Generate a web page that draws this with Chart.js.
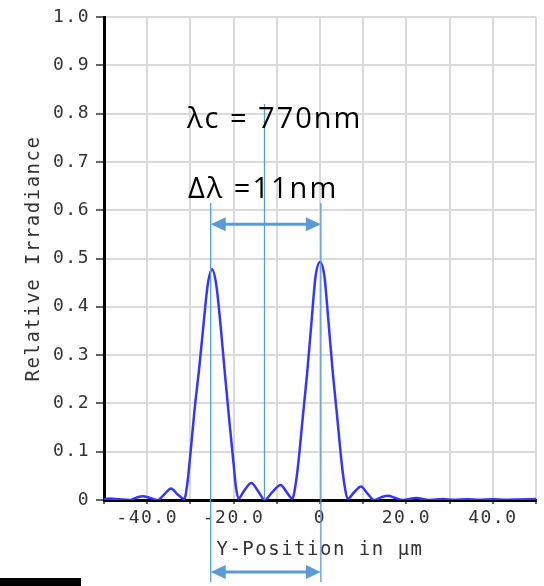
<!DOCTYPE html>
<html>
<head>
<meta charset="utf-8">
<script src="https://cdn.jsdelivr.net/npm/chart.js@4.4.0/dist/chart.umd.min.js"></script>
<style>
  html, body { margin: 0; padding: 0; background: #fff; }
</style>
</head>
<body>
<canvas id="myChart" width="544" height="586"></canvas>
<script>
// Y-position (µm) and relative irradiance
const positions = [
    -50, -48.8, -46.5, -44, -42.5, -41, -39.3, -37.6, -36, -34.5, -33, -31.4,
    -30.7, -30, -29, -28, -27, -26, -25, -24, -23, -22, -21, -20, -19.5, -18.9,
    -17.5, -15.9, -14.3, -12.8, -11, -9.1, -7.7, -6.4,
    -5.6, -5, -4, -3, -2, -1, 0, 1, 2, 3, 4, 5, 5.6, 6.4,
    7.8, 9.5, 11, 12.6, 14, 15.7, 17.5, 19.1, 22.3, 25.3, 28.4, 31, 34, 37, 40, 43, 46, 50
];
const irradiance = [
    0.001, 0.003, 0.0015, 0.0, 0.005, 0.008, 0.004, 0.0, 0.012, 0.024, 0.012, 0.002,
    0.035, 0.095, 0.19, 0.27, 0.36, 0.445, 0.478, 0.445, 0.36, 0.26, 0.165, 0.075, 0.03, 0.003,
    0.02, 0.035, 0.018, 0.0, 0.017, 0.031, 0.016, 0.003,
    0.035, 0.078, 0.17, 0.26, 0.365, 0.465, 0.493, 0.465, 0.365, 0.26, 0.17, 0.078, 0.035, 0.002,
    0.015, 0.028, 0.013, 0.0, 0.005, 0.009, 0.004, 0.0, 0.004, 0.0, 0.002, 0.0005, 0.0015, 0.0005, 0.0015, 0.0005, 0.0012, 0.002
];

const xTickValues = [-40, -20, 0, 20, 40];
const xTickLabels = ['-40.0', '-20.0', '0', '20.0', '40.0'];
const yTickLabels = ['0', '0.1', '0.2', '0.3', '0.4', '0.5', '0.6', '0.7', '0.8', '0.9', '1.0'];

// marker lines: the two peaks and the centre between them
const peakMarks = [-25.3, 0.2];
const centreMark = -12.85;

const points = positions.map((p, i) => ({x: p, y: irradiance[i]}));

const spacing = {
    id: 'spacing',
    beforeDraw(chart) {
        chart.ctx.letterSpacing = '1.5px';
    }
};

function arrow(ctx, x1, x2, y) {
    const head = 15, half = 7;
    ctx.lineWidth = 3;
    ctx.beginPath();
    ctx.moveTo(x1 + head - 2, y);
    ctx.lineTo(x2 - head + 2, y);
    ctx.stroke();
    ctx.beginPath();
    ctx.moveTo(x1, y);
    ctx.lineTo(x1 + head, y - half);
    ctx.lineTo(x1 + head, y + half);
    ctx.closePath();
    ctx.fill();
    ctx.beginPath();
    ctx.moveTo(x2, y);
    ctx.lineTo(x2 - head, y - half);
    ctx.lineTo(x2 - head, y + half);
    ctx.closePath();
    ctx.fill();
}

const annotations = {
    id: 'annotations',
    afterDraw(chart) {
        const {ctx, scales: {x, y}} = chart;
        ctx.save();
        ctx.letterSpacing = '0px';
        const xl = x.getPixelForValue(peakMarks[0]);
        const xr = x.getPixelForValue(peakMarks[1]);
        const xc = x.getPixelForValue(centreMark);
        ctx.strokeStyle = '#5b9bd5';
        ctx.fillStyle = '#5b9bd5';
        ctx.lineWidth = 1.3;
        ctx.beginPath();
        ctx.moveTo(xl, y.getPixelForValue(0.615));
        ctx.lineTo(xl, 582);
        ctx.moveTo(xr, y.getPixelForValue(0.615));
        ctx.lineTo(xr, 582);
        ctx.moveTo(xc, y.getPixelForValue(0.82));
        ctx.lineTo(xc, y.getPixelForValue(0));
        ctx.stroke();
        arrow(ctx, xl, xr, y.getPixelForValue(0.571));
        arrow(ctx, xl, xr, 572);

        ctx.fillStyle = '#000';
        ctx.font = '29px "Open Sans"';
        ctx.textBaseline = 'middle';
        ctx.textAlign = 'left';
        ctx.letterSpacing = '2px';
        ctx.fillText('λc = 770nm', 187, y.getPixelForValue(0.788));
        ctx.fillText('Δλ =11nm', 188, y.getPixelForValue(0.642));

        ctx.fillRect(0, 578, 81, 8);
        ctx.restore();
    }
};

const ctx = document.getElementById('myChart').getContext('2d');
const myChart = new Chart(ctx, {
    type: 'line',
    data: {
        datasets: [{
            data: points,
            borderColor: '#3535ff',
            borderWidth: 2.5,
            pointRadius: 0,
            cubicInterpolationMode: 'monotone',
            fill: false
        }]
    },
    options: {
        responsive: false,
        animation: false,
        devicePixelRatio: 1,
        layout: {padding: {left: 0, right: 8, top: 17, bottom: 0}},
        plugins: {legend: {display: false}, tooltip: {enabled: false}},
        scales: {
            x: {
                type: 'linear',
                min: -50,
                max: 50,
                afterFit(scale) { scale.height = 86; },
                border: {color: '#000', width: 3},
                grid: {color: '#dadada', lineWidth: 2, tickLength: 4, tickColor: '#666'},
                ticks: {
                    stepSize: 10,
                    autoSkip: false,
                    maxRotation: 0,
                    padding: 4,
                    color: '#333',
                    font: {family: 'DejaVu Sans Mono', size: 18},
                    callback: v => {
                        const i = xTickValues.indexOf(Math.round(v));
                        return i >= 0 ? xTickLabels[i] : '';
                    }
                },
                title: {
                    display: true,
                    text: 'Y-Position in µm',
                    color: '#333',
                    font: {family: 'DejaVu Sans Mono', size: 19},
                    padding: {top: 0, bottom: 25}
                }
            },
            y: {
                min: 0,
                max: 1,
                afterFit(scale) { scale.width = 104; },
                border: {color: '#000', width: 3},
                grid: {color: '#dadada', lineWidth: 2, tickLength: 8, tickColor: '#666'},
                ticks: {
                    stepSize: 0.1,
                    padding: 6,
                    color: '#333',
                    font: {family: 'DejaVu Sans Mono', size: 18},
                    callback: v => yTickLabels[Math.round(v * 10)]
                },
                title: {
                    display: true,
                    text: 'Relative Irradiance',
                    color: '#333',
                    font: {family: 'DejaVu Sans Mono', size: 19},
                    padding: {top: 23, bottom: 0}
                }
            }
        }
    },
    plugins: [spacing, annotations]
});
</script>
</body>
</html>
